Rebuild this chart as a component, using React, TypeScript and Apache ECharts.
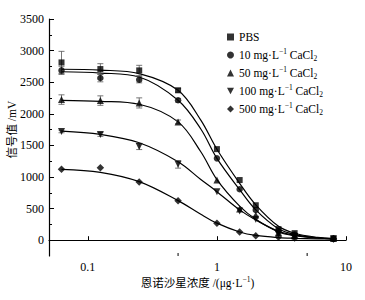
import React, { useEffect, useRef } from 'react';
import * as echarts from 'echarts';

// measured concentrations (μg/L)
const concentrations = [0.0625, 0.125, 0.25, 0.5, 1, 1.5, 2, 3, 4, 8];

const seriesNames = ['PBS', '10 mg·L-1 CaCl2', '50 mg·L-1 CaCl2', '100 mg·L-1 CaCl2', '500 mg·L-1 CaCl2'];
const legendLabels = [
  'PBS',
  '10 mg·L{sup|−1} CaCl{sub|2}',
  '50 mg·L{sup|−1} CaCl{sub|2}',
  '100 mg·L{sup|−1} CaCl{sub|2}',
  '500 mg·L{sup|−1} CaCl{sub|2}',
];

// measured signal values (mV)
const pbsValues = [2813, 2708, 2687, 2372, 1441, 952, 553, 175, 112, 30];
const ca10Values = [2687, 2566, 2540, 2214, 1295, 806, 479, 150, 90, 25];
const ca50Values = [2225, 2209, 2172, 1872, 952, 495, 400, 122, 70, 25];
const ca100Values = [1720, 1673, 1484, 1200, 768, 463, 333, 100, 58, 20];
const ca500Values = [1121, 1147, 921, 626, 270, 128, 69, 49, 33, 20];

// error bar half-widths (mV), 0 = none
const pbsErrors = [175, 85, 80, 30, 0, 0, 0, 0, 0, 0];
const ca10Errors = [65, 60, 50, 30, 0, 0, 0, 0, 0, 0];
const ca50Errors = [75, 75, 80, 30, 0, 0, 0, 0, 0, 0];
const ca100Errors = [20, 30, 50, 60, 0, 0, 0, 0, 0, 0];
const ca500Errors = [0, 0, 0, 0, 0, 0, 0, 0, 0, 0];

// fitted curves
const curveX = [0.0625, 0.125, 0.25, 0.5, 0.75, 1, 1.5, 2, 3, 4, 6, 8];
const pbsCurve = [2705, 2692, 2635, 2372, 1900, 1440, 900, 560, 220, 110, 45, 25];
const ca10Curve = [2665, 2645, 2582, 2214, 1760, 1295, 800, 480, 180, 90, 40, 25];
const ca50Curve = [2214, 2198, 2151, 1872, 1400, 960, 540, 330, 130, 70, 35, 22];
const ca100Curve = [1725, 1673, 1541, 1241, 960, 768, 480, 320, 140, 80, 35, 22];
const ca500Curve = [1121, 1074, 926, 626, 410, 270, 130, 75, 40, 30, 22, 20];

const xMajorLabels = [0.1, 1, 10];
const xMinorTicks = [0.5, 5];
const yAxisMin = -250;
const yAxisMax = 3500;
const yTickInterval = 500;

const allValues = [pbsValues, ca10Values, ca50Values, ca100Values, ca500Values];
const allErrors = [pbsErrors, ca10Errors, ca50Errors, ca100Errors, ca500Errors];
const allCurves = [pbsCurve, ca10Curve, ca50Curve, ca100Curve, ca500Curve];
const symbols = ['rect', 'circle', 'triangle', 'triangle', 'diamond'];
const symbolRotates = [0, 0, 0, 180, 0];
const symbolSizes = [6, 6.5, 7, 7, 7.5];
const legendIcons = ['rect', 'circle', 'triangle', 'path://M0,0L10,0L5,9Z', 'diamond'];

const SERIF = '"Liberation Serif", "Times New Roman", "Noto Sans CJK SC", serif';

const GRID_LEFT = 49;
const GRID_RIGHT = 19;
const GRID_TOP = 19;
const GRID_BOTTOM = 44;

export default function App() {
  const ref = useRef<HTMLDivElement>(null);
  useEffect(() => {
    if (!ref.current) return;
    const chart = echarts.init(ref.current, undefined, { renderer: 'svg' });
    const series: any[] = [];
    allCurves.forEach((c, i) => {
      series.push({
        type: 'line',
        name: 'fit' + i,
        data: curveX.map((x, j) => [x, c[j]]),
        smooth: 0.35,
        showSymbol: false,
        symbol: 'none',
        lineStyle: { color: '#000', width: 1.2 },
        z: 2,
      });
    });
    allErrors.forEach((errs, i) => {
      const d: any[] = [];
      errs.forEach((e, j) => {
        if (e > 0) d.push([concentrations[j], allValues[i][j], e]);
      });
      series.push({
        type: 'custom',
        name: 'err' + i,
        data: d,
        encode: { x: 0, y: 1 },
        z: 3,
        renderItem: (params: any, api: any) => {
          const x = api.value(0);
          const y = api.value(1);
          const e = api.value(2);
          const top = api.coord([x, y + e]);
          const bot = api.coord([x, y - e]);
          const w = 3;
          const st = { stroke: '#555', lineWidth: 0.8 };
          return {
            type: 'group',
            children: [
              { type: 'line', shape: { x1: top[0], y1: top[1], x2: bot[0], y2: bot[1] }, style: st },
              { type: 'line', shape: { x1: top[0] - w, y1: top[1], x2: top[0] + w, y2: top[1] }, style: st },
              { type: 'line', shape: { x1: bot[0] - w, y1: bot[1], x2: bot[0] + w, y2: bot[1] }, style: st },
            ],
          };
        },
      });
    });
    allValues.forEach((vals, i) => {
      series.push({
        type: 'scatter',
        name: seriesNames[i],
        data: concentrations.map((x, j) => [x, vals[j]]),
        symbol: symbols[i],
        symbolRotate: symbolRotates[i],
        symbolSize: symbolSizes[i],
        itemStyle: { color: '#000' },
        z: 4,
      });
    });

    // the labelled grid runs from 0 to 3500; its bottom sits where value 0 falls in the main grid
    const plotH = 300 - GRID_TOP - GRID_BOTTOM;
    const zeroOffset = (plotH * (0 - yAxisMin)) / (yAxisMax - yAxisMin);
    const grid2Bottom = GRID_BOTTOM + zeroOffset;

    chart.setOption({
      animation: false,
      grid: [
        { left: GRID_LEFT, right: GRID_RIGHT, top: GRID_TOP, bottom: GRID_BOTTOM, outerBoundsMode: 'none' },
        { left: GRID_LEFT, right: GRID_RIGHT, top: GRID_TOP, bottom: grid2Bottom, outerBoundsMode: 'none' },
      ],
      legend: {
        orient: 'vertical',
        left: 222,
        top: 25,
        selectedMode: false,
        itemWidth: 7,
        itemHeight: 7,
        itemGap: 4,
        data: seriesNames.map((n, i) => ({ name: n, icon: legendIcons[i] })),
        formatter: (name: string) => legendLabels[seriesNames.indexOf(name)],
        textStyle: {
          fontFamily: SERIF,
          fontSize: 11.5,
          color: '#000',
          lineHeight: 14,
          rich: {
            sup: { fontFamily: SERIF, fontSize: 7.5, verticalAlign: 'top', lineHeight: 8, color: '#000' },
            sub: { fontFamily: SERIF, fontSize: 7.5, verticalAlign: 'bottom', lineHeight: 8, color: '#000' },
          },
        },
      },
      xAxis: [
        {
          type: 'log',
          gridIndex: 0,
          logBase: 10,
          min: 0.05,
          max: 10,
          name: '恩诺沙星浓度 /(μg·L{sup|−1})',
          nameLocation: 'middle',
          nameGap: 20,
          nameMoveOverlap: false,
          nameTextStyle: {
            fontFamily: SERIF,
            fontSize: 11.5,
            color: '#000',
            lineHeight: 14,
            rich: {
              sup: { fontFamily: SERIF, fontSize: 7.5, verticalAlign: 'top', lineHeight: 8, color: '#000' },
            },
          },
          axisLine: { show: true, lineStyle: { color: '#000', width: 1.2 } },
          axisTick: { show: true, inside: true, length: 4, lineStyle: { color: '#000', width: 1 } },
          splitLine: { show: false },
          axisLabel: {
            fontFamily: SERIF,
            fontSize: 12,
            color: '#000',
            margin: 5,
            formatter: (v: number) => {
              const hit = xMajorLabels.find((m) => Math.abs(m - v) / m < 1e-6);
              return hit !== undefined ? String(hit) : '';
            },
          },
        },
        {
          type: 'log',
          gridIndex: 1,
          min: 0.05,
          max: 10,
          show: false,
        },
      ],
      yAxis: [
        {
          type: 'value',
          gridIndex: 0,
          min: yAxisMin,
          max: yAxisMax,
          axisLine: { show: true, lineStyle: { color: '#000', width: 1.2 } },
          axisTick: { show: false },
          axisLabel: { show: false },
          splitLine: { show: false },
        },
        {
          type: 'value',
          gridIndex: 1,
          min: 0,
          max: yAxisMax,
          interval: yTickInterval,
          name: '信号值 /mV',
          nameLocation: 'middle',
          nameGap: 31,
          nameRotate: 90,
          nameMoveOverlap: false,
          nameTextStyle: { fontFamily: SERIF, fontSize: 11.5, color: '#000' },
          axisLine: { show: false },
          axisTick: { show: true, inside: true, length: 5, lineStyle: { color: '#000', width: 1 } },
          minorTick: { show: true, splitNumber: 2, length: 3, lineStyle: { color: '#000', width: 1 } },
          splitLine: { show: false },
          minorSplitLine: { show: false },
          axisLabel: {
            fontFamily: SERIF,
            fontSize: 12,
            color: '#000',
            margin: 5,
            formatter: (v: number) => String(v),
          },
        },
      ],
      series,
    });

    const yb = chart.convertToPixel({ yAxisIndex: 0 }, yAxisMin) as number;
    const minor = xMinorTicks.map((v) => {
      const px = chart.convertToPixel({ xAxisIndex: 0 }, v) as number;
      return {
        type: 'line',
        shape: { x1: px, y1: yb, x2: px, y2: yb - 3 },
        style: { stroke: '#000', lineWidth: 1 },
        silent: true,
      };
    });
    chart.setOption({ graphic: minor });

    return () => chart.dispose();
  }, []);
  return <div ref={ref} style={{ position: 'absolute', left: 0, top: 0, width: 365, height: 300 }} />;
}
